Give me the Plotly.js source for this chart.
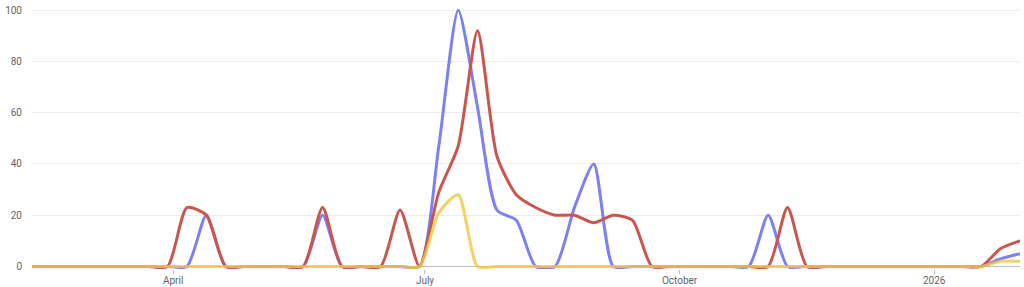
<!DOCTYPE html>
<html>
<head>
<meta charset="utf-8">
<script src="https://cdn.plot.ly/plotly-3.0.1.min.js"></script>
<style>
  html, body { margin: 0; padding: 0; background: #fff; }
  #chart { width: 1024px; height: 287px; }
</style>
</head>
<body>
<div id="chart"></div>
<script>
// Weekly dates (Sundays) from 2025-02-09 to 2026-02-01
const startDate = "2025-02-09";
const weekCount = 52;
const dates = [];
(function () {
  const d0 = new Date(startDate + "T00:00:00Z");
  for (let i = 0; i < weekCount; i++) {
    const d = new Date(d0.getTime() + i * 7 * 86400000);
    dates.push(d.toISOString().slice(0, 10));
  }
})();

const blueValues = [
  0, 0, 0, 0, 0, 0, 0, 0, 0, 20,
  0, 0, 0, 0, 0, 20, 0, 0, 0, 0,
  0, 47, 100, 62, 22, 18, 0, 0, 23, 40,
  0, 0, 0, 0, 0, 0, 0, 0, 20, 0,
  0, 0, 0, 0, 0, 0, 0, 0, 0, 0,
  3, 5
];
const redValues = [
  0, 0, 0, 0, 0, 0, 0, 0, 23, 20,
  0, 0, 0, 0, 0, 23, 0, 0, 0, 22,
  0, 29, 47, 92, 43, 28, 23, 20, 20, 17,
  20, 18, 0, 0, 0, 0, 0, 0, 0, 23,
  0, 0, 0, 0, 0, 0, 0, 0, 0, 0,
  7, 10
];
const yellowValues = [
  0, 0, 0, 0, 0, 0, 0, 0, 0, 0,
  0, 0, 0, 0, 0, 0, 0, 0, 0, 0,
  0, 21, 28, 0, 0, 0, 0, 0, 0, 0,
  0, 0, 0, 0, 0, 0, 0, 0, 0, 0,
  0, 0, 0, 0, 0, 0, 0, 0, 0, 0,
  2, 2
];

const xTickVals = ["2025-04-01", "2025-07-01", "2025-10-01", "2026-01-01"];
const xTickText = ["April", "July", "October", "2026"];
const yTickVals = [0, 20, 40, 60, 80, 100];

function series(y, color) {
  return {
    type: "scatter", mode: "lines", x: dates, y: y,
    line: { color: color, width: 3, shape: "spline", smoothing: 0.65 },
    hoverinfo: "skip", showlegend: false
  };
}

const data = [
  series(blueValues, "rgba(124,128,240,1)"),
  series(redValues, "rgba(201,86,78,1)"),
  series(yellowValues, "rgba(242,197,62,0.8)")
];

const layout = {
  width: 1024, height: 287,
  margin: { l: 32, r: 4, t: 5, b: 18 },
  paper_bgcolor: "#fff", plot_bgcolor: "#fff",
  font: { family: "Roboto, 'Open Sans', sans-serif", size: 10, color: "#5f6368" },
  showlegend: false,
  xaxis: {
    type: "date",
    range: [dates[0], dates[dates.length - 1]],
    tickvals: xTickVals, ticktext: xTickText,
    ticks: "outside", ticklen: 4, tickcolor: "#bdbdbd", tickwidth: 1,
    ticklabelstandoff: -2,
    showgrid: false, showline: false, zeroline: false,
    tickfont: { size: 10, color: "#5f6368" },
    fixedrange: true
  },
  yaxis: {
    range: [-1, 102],
    tickvals: yTickVals,
    showgrid: true, gridcolor: "#ececec", gridwidth: 1,
    zeroline: true, zerolinecolor: "#bdbdbd", zerolinewidth: 1,
    showline: false, ticks: "",
    ticklabelstandoff: 9,
    tickfont: { size: 10, color: "#5f6368" },
    fixedrange: true
  }
};

Plotly.newPlot("chart", data, layout, { displayModeBar: false, staticPlot: true });
</script>
</body>
</html>
